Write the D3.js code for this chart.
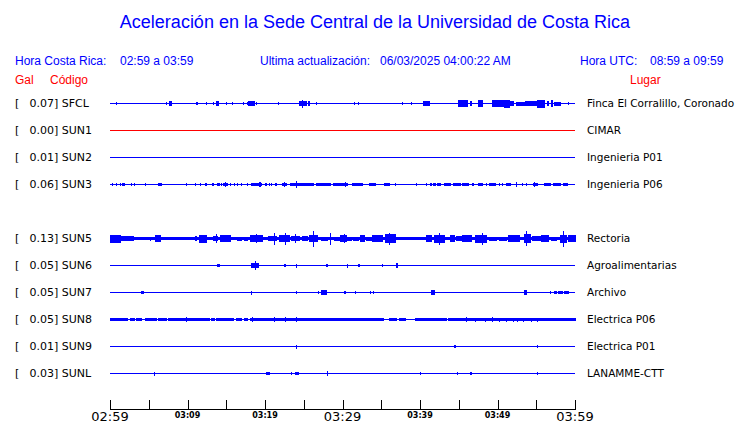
<!DOCTYPE html>
<html><head><meta charset="utf-8">
<script src="https://cdn.jsdelivr.net/npm/d3@7"></script>
<style>body{margin:0;background:#fff}</style>
</head><body><svg id="c" width="740" height="423"></svg>
<script>
// ---- data ----
const codes  = ["SFCL","SUN1","SUN2","SUN3","SUN4","SUN5","SUN6","SUN7","SUN8","SUN9","SUNL"];
const galMax = [0.07, 0.00, 0.01, 0.06, null, 0.13, 0.05, 0.05, 0.05, 0.01, 0.03];
const places = ["Finca El Corralillo, Coronado","CIMAR","Ingenieria P01","Ingenieria P06",null,
                "Rectoria","Agroalimentarias","Archivo","Electrica P06","Electrica P01","LANAMME-CTT"];
const tickMinutes = [0,5,10,15,20,25,30,35,40,45,50,55,60];
const tickLabels  = ["02:59","","03:09","","03:19","","03:29","","03:39","","03:49","","03:59"];
const majorLabels = ["02:59","03:29","03:59"];

// bursts: [start minute, end minute, relative amplitude]
const evSFCL = [[0.8,0.8,0.15],[7.3,7.3,0.15],[7.7,7.9,0.3],[11.1,11.1,0.15],[11.3,11.3,0.2],[12.4,12.4,0.2],
 [13.4,13.4,0.15],[13.8,14.0,0.3],[15.0,15.0,0.15],[15.8,15.8,0.2],[17.2,17.2,0.15],[17.7,17.7,0.2],
 [17.9,18.3,0.3],[18.4,18.7,0.3],[18.9,18.9,0.2],[21.8,21.8,0.2],[24.5,25.3,0.35],[24.8,24.9,0.5],
 [25.6,25.8,0.3],[26.6,26.6,0.2],[31.5,31.5,0.15],[32.1,32.1,0.15],[37.8,37.8,0.2],[38.9,38.9,0.15],
 [40.4,41.2,0.35],[45.0,45.5,0.45],[45.6,46.1,0.4],[46.5,46.7,0.3],[47.5,48.1,0.45],[49.3,50.1,0.45],
 [50.2,50.8,0.4],[50.9,51.6,0.5],[51.7,52.0,0.3],[52.5,53.5,0.25],[53.6,54.0,0.35],[54.1,55.1,0.3],
 [55.2,56.0,0.5],[56.5,56.6,0.3],[57.0,57.1,0.4],[57.4,58.1,0.25],[59.2,59.2,0.15]];
const evSUN1 = [];
const evSUN2 = [];
const evSUN3 = [[0.3,0.3,0.15],[0.8,0.8,0.15],[1.4,1.4,0.15],[1.6,1.9,0.2],[2.8,2.8,0.15],[3.2,3.2,0.15],
 [4.6,4.6,0.15],[6.2,6.6,0.2],[9.9,9.9,0.15],[11.0,11.0,0.2],[11.7,11.7,0.15],[12.3,12.4,0.2],[13.2,13.3,0.2],
 [13.9,14.1,0.2],[14.4,14.4,0.15],[14.7,15.1,0.2],[14.9,14.9,0.3],[15.5,15.5,0.2],[16.1,16.1,0.15],[16.4,16.4,0.15],
 [17.0,17.0,0.15],[17.7,17.7,0.15],[18.2,19.6,0.2],[19.3,19.4,0.35],[20.1,20.2,0.15],[20.6,20.6,0.15],
 [20.9,20.9,0.15],[21.3,21.5,0.2],[22.2,22.8,0.2],[22.5,22.5,0.35],[23.3,24.5,0.2],[24.0,24.1,0.45],
 [24.6,26.2,0.2],[26.7,28.4,0.2],[28.8,30.7,0.2],[30.4,30.4,0.3],[31.3,32.6,0.2],[33.5,34.2,0.2],
 [35.4,36.0,0.2],[36.8,36.8,0.15],[39.5,39.5,0.15],[40.9,40.9,0.15],[41.3,41.5,0.2],[41.8,42.0,0.2],
 [42.3,42.6,0.2],[43.2,43.9,0.2],[44.3,45.2,0.2],[45.5,46.2,0.2],[46.8,46.9,0.2],[47.5,48.0,0.2],
 [48.6,48.6,0.15],[49.0,49.7,0.2],[50.2,50.2,0.15],[50.7,50.7,0.15],[51.2,51.7,0.2],[52.5,52.5,0.3],
 [53.2,53.2,0.15],[53.7,53.7,0.15],[54.6,55.1,0.2],[54.8,54.8,0.35],[56.1,56.8,0.2],[57.2,58.1,0.2],[58.5,59.0,0.2]];
const evSUN4 = [];
const evSUN5 = [[0,60,0.15],[0,1.3,0.5],[1.4,2.2,0.35],[2.3,3.0,0.3],[5.2,5.2,0.25],[5.9,6.5,0.4],[8.5,8.9,0.2],
 [11.0,11.2,0.3],[11.5,12.4,0.5],[13.3,13.9,0.35],[13.8,13.8,0.6],[14.3,15.0,0.45],[15.2,15.5,0.45],
 [16.5,17.0,0.25],[17.4,17.8,0.25],[18.1,19.7,0.45],[18.9,18.9,0.55],[20.4,21.5,0.3],[21.2,21.2,0.75],
 [21.9,23.2,0.45],[22.7,22.7,0.75],[23.4,24.5,0.3],[23.9,23.9,0.6],[24.9,25.5,0.3],[25.8,26.8,0.45],
 [26.2,26.2,1.0],[27.3,28.0,0.25],[28.4,28.4,0.75],[29.0,29.7,0.25],[29.8,30.5,0.45],[30.3,30.3,0.6],
 [30.7,31.2,0.25],[31.4,32.0,0.25],[32.3,32.9,0.45],[33.1,33.8,0.25],[33.9,35.2,0.45],[35.5,36.8,0.55],
 [36.1,36.1,0.75],[40.9,41.5,0.4],[41.9,43.2,0.5],[42.5,42.5,0.75],[43.9,44.5,0.45],[44.7,45.4,0.3],
 [45.5,46.7,0.45],[47.1,48.6,0.5],[48.1,48.1,0.75],[49.0,49.9,0.25],[50.3,51.2,0.25],[51.4,52.9,0.45],
 [53.5,54.2,0.55],[53.8,53.8,0.9],[54.5,55.5,0.3],[55.7,56.6,0.45],[57.0,57.6,0.25],[58.1,58.9,0.5],
 [58.5,58.5,1.0],[59.1,60,0.4]];
const evSUN6 = [[3.0,3.0,0.12],[13.9,14.1,0.2],[18.3,19.2,0.35],[18.8,18.8,0.55],[22.5,22.7,0.2],[24.1,24.1,0.25],
 [24.7,24.8,0.12],[27.4,27.4,0.12],[27.9,28.1,0.2],[30.7,30.7,0.25],[32.0,32.2,0.2],[35.1,35.1,0.15],
 [37.0,37.1,0.3],[42.0,42.0,0.12],[43.7,43.7,0.12],[52.6,52.6,0.12],[56.1,56.1,0.12],[56.7,56.7,0.12],[58.6,58.6,0.12]];
const evSUN7 = [[2.2,2.2,0.12],[4.1,4.3,0.2],[18.3,18.3,0.25],[24.1,24.1,0.15],[26.9,26.9,0.15],[27.3,27.9,0.35],
 [30.2,30.4,0.15],[31.7,31.7,0.15],[32.3,32.3,0.12],[33.6,33.6,0.15],[34.0,34.0,0.15],[41.5,41.9,0.35],
 [46.1,46.1,0.12],[53.5,53.8,0.3],[56.9,56.9,0.15],[57.4,57.6,0.15],[57.9,58.4,0.15],[58.6,59.1,0.15]];
const evSUN8 = [[0,0.9,0.2],[1.0,2.3,0.16],[2.6,3.1,0.18],[3.4,4.1,0.16],[4.6,5.2,0.16],[5.4,6.0,0.16],
 [6.2,7.3,0.18],[7.5,12.9,0.16],[9.9,9.9,0.3],[13.1,13.5,0.16],[13.8,15.9,0.16],[16.3,17.0,0.16],
 [17.4,17.8,0.16],[18.1,31.0,0.16],[18.4,18.4,0.3],[21.2,21.2,0.35],[22.7,22.7,0.35],[24.1,24.1,0.3],
 [29.7,32.7,0.16],[32.9,34.2,0.16],[34.4,35.3,0.16],[36.1,37.0,0.16],[37.4,38.1,0.16],[39.4,43.4,0.16],
 [43.7,60,0.18],[46.0,46.0,0.35],[47.1,47.1,0.25],[48.5,48.5,0.25],[49.3,49.3,0.35],[50.3,50.3,0.25],
 [51.2,51.2,0.25],[52.0,52.0,0.25],[52.6,52.6,0.25],[53.3,53.3,0.25],[54.4,54.4,0.25],[55.1,55.1,0.25]];
const evSUN9 = [[24.1,24.1,0.25],[44.4,44.6,0.18],[51.1,51.1,0.12],[55.1,55.1,0.15]];
const evSUNL = [[5.8,5.8,0.25],[19.4,19.4,0.12],[20.2,20.6,0.2],[20.9,20.9,0.12],[23.4,23.4,0.15],[23.9,24.3,0.2],
 [24.5,24.5,0.12],[28.0,28.0,0.35],[28.3,28.3,0.12],[31.4,31.4,0.12],[32.7,32.7,0.12],[34.6,34.6,0.12],
 [40.0,40.0,0.15],[44.9,44.9,0.15],[46.0,46.0,0.12],[46.5,46.7,0.15],[51.5,51.5,0.12],[55.1,55.1,0.15]];
const events = [evSFCL,evSUN1,evSUN2,evSUN3,evSUN4,evSUN5,evSUN6,evSUN7,evSUN8,evSUN9,evSUNL];

// ---- drawing ----
const svg = d3.select("#c");
const BLUE = "#0000ff", RED = "#ff0000";
const x = d3.scaleLinear().domain([0,60]).range([110,575]);
const y = d3.scalePoint().domain(codes).range([103,373]);
const amp = d3.scaleLinear().domain([0,1]).range([0,8]);
const sans = "'Liberation Sans', Arial, sans-serif";
const dv = "'DejaVu Sans', sans-serif";

svg.append("text").attr("x",375).attr("y",28).attr("text-anchor","middle")
  .attr("font-family",sans).attr("font-size",18).attr("fill",BLUE)
  .text("Aceleración en la Sede Central de la Universidad de Costa Rica");

const hdr = [["Hora Costa Rica:",15],["02:59 a 03:59",120],["Ultima actualización:",260],
             ["06/03/2025 04:00:22 AM",380],["Hora UTC:",580],["08:59 a 09:59",650]];
svg.selectAll("text.hdr").data(hdr).join("text").attr("class","hdr")
  .attr("x",d=>d[1]).attr("y",65).attr("font-family",sans).attr("font-size",12)
  .attr("fill",BLUE).text(d=>d[0]);
[["Gal",15],["Código",50],["Lugar",630]].forEach(d=>{
  svg.append("text").attr("x",d[1]).attr("y",84).attr("font-family",sans).attr("font-size",12)
    .attr("fill",RED).text(d[0]);
});

const rows = codes.map((c,i)=>({code:c,gal:galMax[i],place:places[i],ev:events[i]})).filter(d=>d.gal!==null);

const g = svg.append("g").attr("shape-rendering","crispEdges");
rows.forEach(r=>{
  const col = r.gal===0 ? RED : BLUE;
  const yy = Math.round(y(r.code));
  g.append("line").attr("x1",x(0)).attr("x2",x(60)).attr("y1",yy+0.5).attr("y2",yy+0.5)
    .attr("stroke",col).attr("stroke-width",1);
  g.selectAll(null).data(r.ev).join("rect")
    .attr("x",d=>x(d[0])-0.5).attr("width",d=>Math.max(1,x(d[1])-x(d[0])+1))
    .attr("y",d=>yy+0.5-amp(d[2])).attr("height",d=>2*amp(d[2])).attr("fill",col);
  const t = svg.append("g").attr("font-family",dv).attr("font-size",11).attr("fill","#000");
  t.append("text").attr("x",15).attr("y",yy+4).text("[");
  t.append("text").attr("x",54).attr("y",yy+4).attr("text-anchor","end").text(r.gal.toFixed(2));
  t.append("text").attr("x",54).attr("y",yy+4).text("] "+r.code);
  t.append("text").attr("x",587).attr("y",yy+4).attr("font-size",10.5).text(r.place);
});

// time axis
const ax = svg.append("g").attr("shape-rendering","crispEdges");
ax.append("line").attr("x1",x(0)).attr("x2",x(60)).attr("y1",409.5).attr("y2",409.5).attr("stroke","#000");
ax.selectAll("line.tk").data(tickMinutes).join("line").attr("class","tk")
  .attr("x1",d=>Math.round(x(d))+0.5).attr("x2",d=>Math.round(x(d))+0.5)
  .attr("y1",400).attr("y2",410).attr("stroke","#000");
svg.selectAll("text.tl").data(tickMinutes).join("text").attr("class","tl")
  .attr("x",d=>x(d)).attr("text-anchor","middle").attr("font-family",dv)
  .attr("y",(d,i)=>majorLabels.includes(tickLabels[i])?421:418)
  .attr("font-size",(d,i)=>majorLabels.includes(tickLabels[i])?13:8)
  .attr("font-weight",(d,i)=>majorLabels.includes(tickLabels[i])?"normal":"bold")
  .text((d,i)=>tickLabels[i]);
</script></body></html>
